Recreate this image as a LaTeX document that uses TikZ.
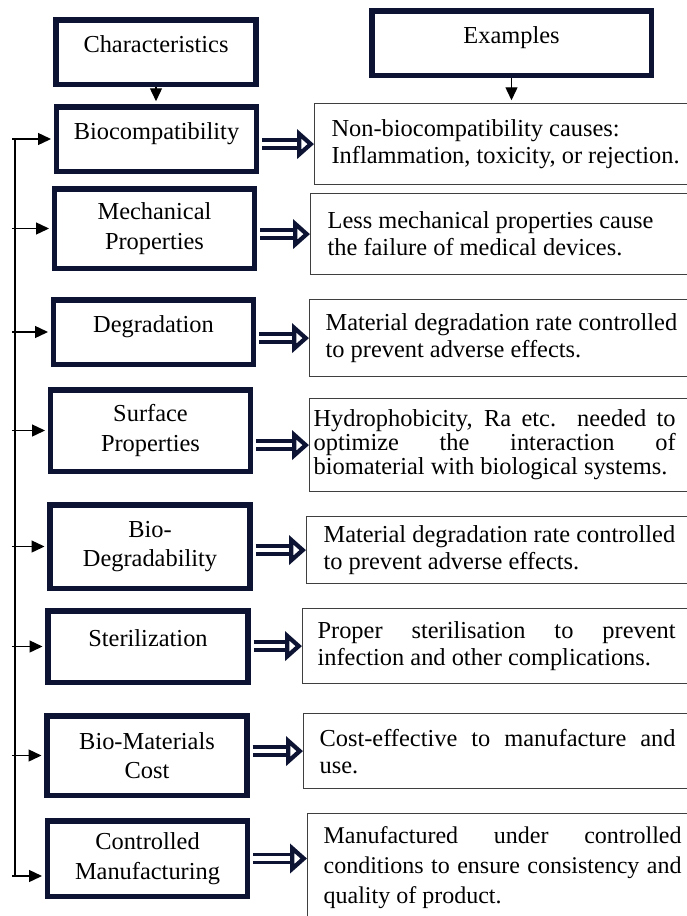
\documentclass[tikz,border=0pt]{standalone}
\usepackage{fontspec}
\setmainfont{Liberation Serif}
\usetikzlibrary{arrows.meta}
\definecolor{navy}{HTML}{0D1333}
\definecolor{rim}{HTML}{3F3F3F}
\newcommand{\jpar}[2]{\parbox{#1}{\spaceskip=0pt\xspaceskip=0pt\rightskip=0pt\parfillskip=0pt plus 1fil\hyphenpenalty=10000\relax #2}}
\tikzset{cbox/.style={draw=navy,line width=5.5pt,align=center,minimum width=200pt,inner sep=2pt,font=\fontsize{24.4}{29.5}\selectfont},
	 oneline/.style={text height=17pt,text depth=17pt},
	 ebox/.style={draw=rim,line width=1.2pt,anchor=north west,align=justify,text width=380pt,inner ysep=2pt,font=\fontsize{24.4}{27}\selectfont},
	 feed/.style={line width=1.4pt,-{Triangle[length=13pt,width=12pt]},shorten >=2.75pt},
	 dbl/.style={draw=navy,line width=3.5pt,double=white,double distance=4.5pt,-{Triangle[open,fill=white,length=17pt,width=29pt,line width=5.5pt]},shorten <=2.8pt}
	 }
\begin{document}
\begin{tikzpicture}[x=1pt,y=-1pt] % characteristics of biomaterials
	\useasboundingbox (0,0) rectangle (686,916);
	\node[cbox,oneline,minimum height=64.5pt] (ch) at (156,52) {Characteristics};
	\node[cbox,oneline,minimum width=279.5pt,minimum height=64.5pt] (ex) at (511.5,43) {Examples};
	\node[cbox,oneline,minimum height=64.5pt] (c1) at (156.5,139) {Biocompatibility};
	\node[cbox,minimum height=79.5pt] (c2) at (154.5,228.5) {Mechanical\\Properties};
	\node[cbox,oneline,minimum height=64.5pt] (c3) at (153.5,332) {Degradation};
	\node[cbox,minimum height=81.5pt] (c4) at (150.5,430.5) {Surface\\Properties};
	\node[cbox,minimum height=83.5pt] (c5) at (150,546.5) {Bio-\\Degradability};
	\node[cbox,oneline,minimum height=71.5pt] (c6) at (148,646.5) {Sterilization};
	\node[cbox,minimum height=79.5pt] (c7) at (147,755.5) {Bio-Materials\\Cost};
	\node[cbox,minimum height=75.5pt] (c8) at (147.5,858.5) {Controlled\\Manufacturing};
	\node[ebox,inner xsep=17pt,minimum height=81pt] (e1) at (314,103) {Non-biocompatibility causes:\\Inflammation, toxicity, or rejection.};
	\node[ebox,inner xsep=17pt,minimum height=81pt] (e2) at (310,193) {Less mechanical properties cause\\the failure of medical devices.};
	\node[ebox,inner xsep=16pt,minimum height=77pt] (e3) at (309,299) {Material degradation rate controlled\\to prevent adverse effects.};
	\node[ebox,inner xsep=4pt,minimum height=93pt,font=\fontsize{24.4}{24}\selectfont] (e4) at (309,398) {\jpar{362pt}{Hydrophobicity, Ra etc. needed to\linebreak optimize the interaction of\linebreak biomaterial with biological systems.}};
	\node[ebox,inner xsep=17pt,minimum height=67pt] (e5) at (306,516) {Material degradation rate controlled\\to prevent adverse effects.};
	\node[ebox,inner xsep=15pt,minimum height=75pt] (e6) at (302,608) {\jpar{358pt}{Proper sterilisation to prevent\linebreak infection and other complications.}};
	\node[ebox,inner xsep=16pt,minimum height=75pt] (e7) at (303,713) {\jpar{356pt}{Cost-effective to manufacture and\linebreak use.}};
	\node[ebox,inner xsep=16pt,minimum height=108pt,font=\fontsize{24}{30}\selectfont] (e8) at (307,813) {\jpar{358pt}{Manufactured under controlled\linebreak conditions to ensure consistency and\linebreak quality of product.}};
	\draw[feed] (ch.south) to (ch.south |- c1.north);
	\draw[feed] (ex.south) to (ex.south |- e1.north);
	\coordinate (t) at (15,0);
	\coordinate (c8in) at ([yshift=-17.5pt]c8.west);
	\draw[line width=1.4pt] (t |- c1.west) to (t |- c8in);
	\foreach \i in {1,...,7}
		\draw[feed,shorten <=-3pt] (t |- c\i.west) to (c\i.west);
	\draw[feed,shorten <=-3pt] (t |- c8in) to (c8in);
	\foreach \i in {1,...,7}
		\draw[dbl] (c\i.east |- e\i.west) to (e\i.west);
	\draw[dbl] (c8.east) to (c8.east -| e8.west);
\end{tikzpicture}
\end{document}
